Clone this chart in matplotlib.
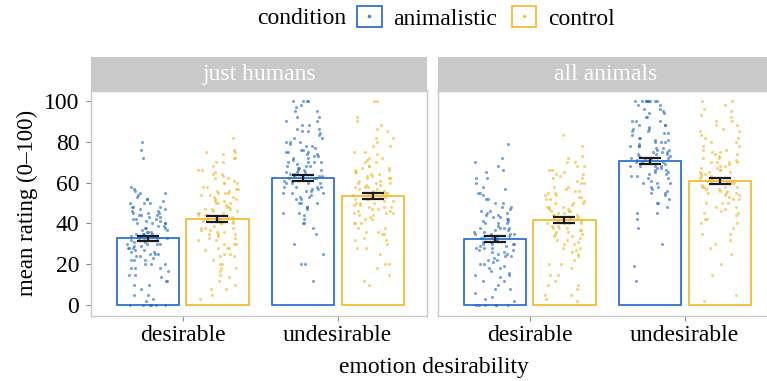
import numpy as np
import matplotlib.pyplot as plt
from matplotlib.lines import Line2D
from matplotlib.patches import Patch
from matplotlib.legend_handler import HandlerTuple

plt.rcParams['font.family'] = ['Liberation Serif', 'DejaVu Serif']

# Data -------------------------------------------------------------------
panels = ['just humans', 'all animals']
desirability = ['desirable', 'undesirable']
conditions = ['animalistic', 'control']

# mean rating per panel, per condition (desirable, undesirable)
mean_humans_anim = [32.7, 62.3]
mean_humans_ctrl = [42.1, 53.3]
mean_animals_anim = [32.4, 70.6]
mean_animals_ctrl = [41.6, 60.7]

# standard errors
se_humans_anim = [1.4, 1.5]
se_humans_ctrl = [1.5, 1.5]
se_animals_anim = [1.5, 1.5]
se_animals_ctrl = [1.5, 1.5]

# individual ratings (read approximately off the jittered points)
hum_des_anim = [0, 0, 0, 0, 2, 3, 5, 8, 10, 12, 14, 15, 17, 18, 20, 20, 22, 23, 24, 25,
                25, 26, 27, 28, 29, 30, 30, 31, 32, 33, 33, 34, 35, 35, 36, 37, 38, 38,
                39, 40, 40, 41, 42, 42, 43, 44, 45, 45, 46, 47, 48, 48, 50, 50, 51, 52,
                53, 55, 56, 57, 58, 30, 28, 22, 18, 35, 40, 72, 76, 80,
                5, 10, 15, 18, 20, 22, 25, 27, 28, 30, 31, 32, 33, 34, 35, 36, 37, 38,
                40, 41, 42, 43, 44, 45, 46, 47, 48, 50, 52, 54, 55, 26, 29, 36, 39, 44,
                0, 0, 12, 24]
hum_des_ctrl = [3, 5, 8, 10, 12, 15, 17, 18, 20, 22, 24, 25, 27, 28, 30, 30, 32, 33, 34,
                35, 36, 37, 38, 39, 40, 40, 41, 42, 43, 44, 45, 45, 46, 47, 48, 49, 50,
                50, 51, 52, 53, 54, 55, 56, 57, 58, 60, 60, 62, 63, 64, 65, 66, 68, 70,
                72, 74, 75, 76, 82, 38, 42, 35, 47, 55, 28, 44,
                8, 14, 20, 25, 28, 30, 33, 35, 36, 38, 40, 41, 42, 43, 44, 45, 46, 48,
                50, 51, 52, 54, 55, 56, 58, 60, 62, 64, 66, 70, 72, 75, 32, 37, 47, 53,
                57, 61, 24, 18]
hum_und_anim = [12, 20, 20, 30, 35, 38, 40, 42, 44, 45, 47, 48, 50, 50, 52, 53, 55, 55,
                56, 57, 58, 58, 60, 60, 61, 62, 62, 63, 64, 65, 65, 66, 67, 68, 68, 70,
                70, 71, 72, 73, 74, 75, 75, 76, 77, 78, 80, 80, 82, 83, 85, 86, 88, 90,
                92, 95, 97, 100, 100, 100, 63, 58, 66, 70, 54, 60,
                25, 40, 45, 48, 50, 52, 55, 57, 58, 60, 62, 63, 64, 65, 66, 67, 68, 70,
                72, 74, 75, 76, 78, 80, 82, 84, 85, 88, 90, 92, 95, 98, 100, 56, 61, 69,
                73, 79, 86, 53]
hum_und_ctrl = [10, 12, 15, 18, 20, 25, 28, 30, 32, 33, 35, 36, 38, 40, 40, 42, 43, 44,
                45, 46, 47, 48, 49, 50, 50, 51, 52, 53, 54, 55, 55, 56, 57, 58, 59, 60,
                60, 61, 62, 63, 64, 65, 66, 67, 68, 70, 71, 72, 74, 75, 78, 80, 82, 85,
                88, 92, 100, 100, 45, 52, 58, 62, 48, 55,
                20, 28, 32, 35, 38, 40, 42, 44, 45, 46, 48, 50, 51, 52, 53, 54, 55, 56,
                57, 58, 60, 62, 63, 64, 65, 66, 68, 70, 72, 75, 78, 82, 86, 90, 47, 49,
                59, 61, 67, 36]
ani_des_anim = [0, 0, 0, 0, 0, 2, 4, 6, 8, 10, 12, 14, 15, 17, 18, 20, 21, 22, 24, 25,
                26, 27, 28, 29, 30, 30, 31, 32, 33, 34, 35, 35, 36, 37, 38, 38, 40, 40,
                41, 42, 43, 44, 45, 46, 47, 48, 50, 52, 54, 55, 57, 60, 62, 65, 68, 70,
                72, 79, 30, 33, 35, 28, 25, 38,
                0, 3, 8, 12, 15, 18, 20, 22, 24, 26, 28, 30, 31, 32, 33, 34, 35, 36, 37,
                38, 40, 42, 44, 45, 46, 48, 50, 52, 55, 58, 62, 66, 23, 27, 39, 41, 43,
                29, 19, 16]
ani_des_ctrl = [2, 3, 5, 8, 10, 12, 15, 18, 20, 22, 24, 26, 28, 30, 31, 32, 33, 34, 35,
                36, 37, 38, 39, 40, 40, 41, 42, 43, 44, 45, 46, 47, 48, 48, 50, 50, 51,
                52, 53, 54, 55, 56, 58, 60, 61, 62, 63, 64, 65, 66, 68, 70, 72, 78, 83,
                40, 44, 38, 46, 42,
                5, 10, 15, 20, 25, 28, 30, 32, 34, 35, 36, 38, 40, 41, 42, 43, 44, 45,
                46, 48, 50, 52, 54, 55, 56, 58, 60, 62, 64, 66, 68, 70, 73, 37, 39, 47,
                49, 53, 57, 27]
ani_und_anim = [12, 19, 30, 38, 42, 45, 48, 50, 52, 54, 55, 56, 58, 60, 60, 61, 62, 63,
                64, 65, 66, 67, 68, 68, 70, 70, 71, 72, 73, 74, 75, 75, 76, 77, 78, 80,
                80, 81, 82, 83, 84, 85, 86, 88, 88, 90, 90, 92, 94, 95, 96, 98, 100, 100,
                100, 100, 100, 100, 72, 68, 74, 78,
                45, 50, 55, 58, 60, 62, 64, 65, 66, 68, 70, 71, 72, 73, 74, 75, 76, 77,
                78, 79, 80, 82, 84, 85, 86, 88, 90, 92, 94, 96, 98, 100, 100, 100, 63,
                67, 69, 81, 87, 57]
ani_und_ctrl = [2, 5, 20, 25, 30, 32, 35, 38, 40, 42, 44, 45, 46, 48, 50, 50, 52, 53, 54,
                55, 56, 57, 58, 58, 60, 60, 61, 62, 63, 64, 65, 66, 67, 68, 69, 70, 70,
                72, 73, 74, 75, 76, 78, 80, 82, 83, 85, 86, 88, 90, 92, 95, 100, 100, 58,
                62, 65, 55, 60, 70,
                15, 28, 35, 40, 42, 45, 48, 50, 52, 54, 55, 56, 58, 60, 61, 62, 63, 64,
                65, 66, 67, 68, 70, 72, 74, 75, 76, 78, 80, 82, 85, 88, 90, 93, 96, 98,
                57, 59, 71, 47]

means = [[mean_humans_anim, mean_humans_ctrl], [mean_animals_anim, mean_animals_ctrl]]
ses = [[se_humans_anim, se_humans_ctrl], [se_animals_anim, se_animals_ctrl]]
raw = [[[hum_des_anim, hum_und_anim], [hum_des_ctrl, hum_und_ctrl]],
       [[ani_des_anim, ani_und_anim], [ani_des_ctrl, ani_und_ctrl]]]

colors = ['#1f67c5', '#f1b621']

# Figure -----------------------------------------------------------------
W, H = 767, 381
fig = plt.figure(figsize=(W / 100, H / 100), dpi=100)

grey = '#c9c9c9'
xpos = np.array([1, 2])
dodge = 0.225
barw = 0.40
jit = 0.13


def spread(n, seed):
    # deterministic horizontal scatter (hash of the index), layout only
    t = np.sin((np.arange(n) + 1) * 12.9898 + seed * 78.233) * 43758.5453
    return (t - np.floor(t)) - 0.5


panel_top, panel_bot = 90.5, 315.5
for p, name in enumerate(panels):
    left = (91 if p == 0 else 438) / W
    ax = fig.add_axes([left, (H - panel_bot) / H, 336 / W, (panel_bot - panel_top) / H])
    sax = fig.add_axes([left, (H - panel_top) / H, 336 / W, 33.5 / H])

    for c, cond in enumerate(conditions):
        off = -dodge if c == 0 else dodge
        ax.bar(xpos + off, means[p][c], width=barw, facecolor='white',
               edgecolor=colors[c], linewidth=1.2, zorder=1)
        for d in range(2):
            vals = np.array(raw[p][c][d], dtype=float)
            xs = xpos[d] + off + spread(len(vals), 4 * p + 2 * c + d) * 2 * jit
            ax.scatter(xs, vals, s=5, color=colors[c], alpha=0.6,
                       linewidths=0, zorder=2)
        ax.errorbar(xpos + off, means[p][c], yerr=ses[p][c], fmt='none',
                    ecolor='#1a1a1a', elinewidth=1.6, capsize=8, capthick=1.6,
                    zorder=3)

    ax.set_xlim(0.41, 2.575)
    ax.set_ylim(-5, 105)
    ax.set_xticks(xpos)
    ax.set_xticklabels(desirability, fontsize=17)
    ax.set_yticks([0, 20, 40, 60, 80, 100])
    if p == 0:
        ax.set_yticklabels(['0', '20', '40', '60', '80', '100'], fontsize=17)
        ax.set_ylabel('mean rating (0\u2013100)', fontsize=16.5, labelpad=4)
    else:
        ax.tick_params(axis='y', left=False, labelleft=False)
    ax.tick_params(colors='#8c8c8c', labelcolor='black', length=3.5, width=0.8)
    ax.tick_params(axis='x', pad=3)
    ax.tick_params(axis='y', pad=5)
    for sp in ax.spines.values():
        sp.set_color(grey)
        sp.set_linewidth(1.0)

    sax.set_facecolor(grey)
    sax.set_xticks([])
    sax.set_yticks([])
    for sp in sax.spines.values():
        sp.set_visible(False)
    sax.text(0.5, 0.47, name, transform=sax.transAxes, ha='center', va='center',
             color='white', fontsize=17)

fig.text(434 / W, 1 - 368 / H, 'emotion desirability', ha='center', va='center',
         fontsize=17)

# Legend -----------------------------------------------------------------
handles = [(Patch(facecolor='white', edgecolor=col, linewidth=1.2),
            Line2D([], [], marker='o', ls='', color=col, ms=1.6, alpha=0.7))
           for col in colors]
fig.text(346 / W, 1 - 18 / H, 'condition', ha='right', va='center', fontsize=17)
fig.legend(handles, conditions, handler_map={tuple: HandlerTuple(ndivide=1)},
           loc='center', bbox_to_anchor=(486 / W, 1 - 18 / H), ncol=2,
           frameon=False, fontsize=17, handlelength=1.05, handleheight=1.0,
           handletextpad=0.5, columnspacing=0.6, borderpad=0)

fig.savefig('out.png', dpi=100)
